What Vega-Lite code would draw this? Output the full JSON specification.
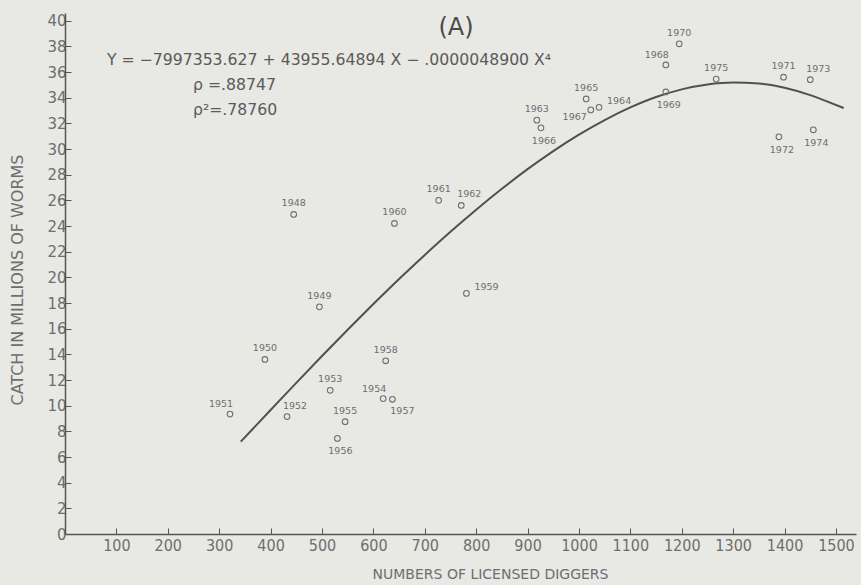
{
  "$schema": "https://vega.github.io/schema/vega-lite/v6.json",
  "width": 791,
  "height": 521,
  "autosize": {"type": "none"},
  "padding": {"left": 65, "top": 13, "right": 5, "bottom": 51},
  "background": "#e8e8e5",
  "config": {
    "view": {"stroke": null},
    "axis": {
      "grid": false,
      "domainColor": "#555555",
      "domainWidth": 1.5,
      "tickColor": "#555555",
      "tickWidth": 1,
      "tickSize": -6,
      "labelColor": "#6e6e6e",
      "titleColor": "#6e6e6e",
      "titleFontWeight": "normal",
      "labelFlush": false,
      "labelOverlap": false
    }
  },
  "datasets": {
    "pts": [
      {"year": "1948", "diggers": 445, "catch": 24.9, "pos": "above"},
      {"year": "1949", "diggers": 495, "catch": 17.7, "pos": "above"},
      {"year": "1950", "diggers": 389, "catch": 13.6, "pos": "above"},
      {"year": "1951", "diggers": 321, "catch": 9.35, "pos": "aboveleft"},
      {"year": "1952", "diggers": 432, "catch": 9.15, "pos": "aboveright"},
      {"year": "1953", "diggers": 516, "catch": 11.2, "pos": "above"},
      {"year": "1954", "diggers": 619, "catch": 10.55, "pos": "aboveleft"},
      {"year": "1955", "diggers": 545, "catch": 8.75, "pos": "above"},
      {"year": "1956", "diggers": 530, "catch": 7.45, "pos": "below"},
      {"year": "1957", "diggers": 637, "catch": 10.5, "pos": "belowright"},
      {"year": "1958", "diggers": 624, "catch": 13.5, "pos": "above"},
      {"year": "1959", "diggers": 781, "catch": 18.75, "pos": "right"},
      {"year": "1960", "diggers": 641, "catch": 24.2, "pos": "above"},
      {"year": "1961", "diggers": 727, "catch": 26.0, "pos": "above"},
      {"year": "1962", "diggers": 771, "catch": 25.6, "pos": "aboveright"},
      {"year": "1963", "diggers": 918, "catch": 32.25, "pos": "above"},
      {"year": "1964", "diggers": 1039, "catch": 33.25, "pos": "right"},
      {"year": "1965", "diggers": 1014, "catch": 33.9, "pos": "above"},
      {"year": "1966", "diggers": 926, "catch": 31.65, "pos": "below"},
      {"year": "1967", "diggers": 1023, "catch": 33.05, "pos": "left"},
      {"year": "1968", "diggers": 1169, "catch": 36.55, "pos": "aboveleft"},
      {"year": "1969", "diggers": 1169, "catch": 34.45, "pos": "below"},
      {"year": "1970", "diggers": 1195, "catch": 38.2, "pos": "above"},
      {"year": "1971", "diggers": 1398, "catch": 35.6, "pos": "above"},
      {"year": "1972", "diggers": 1389, "catch": 30.95, "pos": "below"},
      {"year": "1973", "diggers": 1450, "catch": 35.4, "pos": "aboveright"},
      {"year": "1974", "diggers": 1456, "catch": 31.5, "pos": "below"},
      {"year": "1975", "diggers": 1267, "catch": 35.45, "pos": "above"}
    ],
    "curve": [
      {"diggers": 342, "catch": 7.2},
      {"diggers": 400, "catch": 9.66},
      {"diggers": 450, "catch": 11.78},
      {"diggers": 500, "catch": 13.87},
      {"diggers": 550, "catch": 15.92},
      {"diggers": 600, "catch": 17.92},
      {"diggers": 650, "catch": 19.87},
      {"diggers": 700, "catch": 21.75},
      {"diggers": 750, "catch": 23.55},
      {"diggers": 800, "catch": 25.27},
      {"diggers": 850, "catch": 26.9},
      {"diggers": 900, "catch": 28.43},
      {"diggers": 950, "catch": 29.84},
      {"diggers": 1000, "catch": 31.12},
      {"diggers": 1050, "catch": 32.26},
      {"diggers": 1100, "catch": 33.24},
      {"diggers": 1150, "catch": 34.05},
      {"diggers": 1200, "catch": 34.65},
      {"diggers": 1250, "catch": 35.03},
      {"diggers": 1300, "catch": 35.18},
      {"diggers": 1350, "catch": 35.1},
      {"diggers": 1400, "catch": 34.78},
      {"diggers": 1450, "catch": 34.2},
      {"diggers": 1480, "catch": 33.75},
      {"diggers": 1515, "catch": 33.2}
    ],
    "notes": [
      {"label": "Y = −7997353.627 + 43955.64894 X − .0000048900 X⁴", "diggers": 81.5, "catch": 36.9, "kind": "eq"},
      {"label": "ρ =.88747", "diggers": 249, "catch": 35.0, "kind": "eq"},
      {"label": "ρ²=.78760", "diggers": 249, "catch": 33.05, "kind": "eq"},
      {"label": "(A)", "diggers": 760.7, "catch": 39.44, "kind": "head"}
    ]
  },
  "encoding": {
    "x": {
      "field": "diggers",
      "type": "quantitative",
      "scale": {"domain": [0, 1539], "nice": false, "zero": false},
      "axis": {
        "values": [100, 200, 300, 400, 500, 600, 700, 800, 900, 1000, 1100, 1200, 1300, 1400, 1500],
        "format": "d",
        "labelFont": "DejaVu Sans Condensed",
        "labelFontSize": 16,
        "labelPadding": 9,
        "title": "NUMBERS OF LICENSED DIGGERS",
        "titleFont": "DejaVu Sans",
        "titleFontSize": 14,
        "titleX": 425,
        "titleY": 40,
        "titleBaseline": "middle",
        "titleAlign": "center"
      }
    },
    "y": {
      "field": "catch",
      "type": "quantitative",
      "scale": {"domain": [0, 40.6], "nice": false, "zero": false},
      "axis": {
        "values": [0, 2, 4, 6, 8, 10, 12, 14, 16, 18, 20, 22, 24, 26, 28, 30, 32, 34, 36, 38, 40],
        "format": "d",
        "labelFont": "DejaVu Sans",
        "labelFontSize": 15,
        "labelPadding": 5,
        "title": "CATCH IN MILLIONS OF WORMS",
        "titleFont": "DejaVu Sans",
        "titleFontSize": 16,
        "titleX": -48,
        "titleY": 266.5,
        "titleAngle": -90,
        "titleAlign": "center",
        "titleBaseline": "middle"
      }
    }
  },
  "layer": [
    {
      "data": {"name": "curve"},
      "mark": {"type": "line", "color": "#505050", "strokeWidth": 2, "interpolate": "monotone"}
    },
    {
      "data": {"name": "pts"},
      "mark": {"type": "point", "shape": "circle", "filled": false, "size": 32, "stroke": "#707070", "strokeWidth": 1.1, "opacity": 1}
    },
    {
      "data": {"name": "pts"},
      "transform": [{"filter": "datum.pos == 'above'"}],
      "mark": {"type": "text", "font": "DejaVu Sans", "fontSize": 9.5, "color": "#6e6e6e", "dy": -11, "baseline": "middle", "align": "center"},
      "encoding": {"text": {"field": "year"}}
    },
    {
      "data": {"name": "pts"},
      "transform": [{"filter": "datum.pos == 'aboveleft'"}],
      "mark": {"type": "text", "font": "DejaVu Sans", "fontSize": 9.5, "color": "#6e6e6e", "dx": -9, "dy": -10, "baseline": "middle", "align": "center"},
      "encoding": {"text": {"field": "year"}}
    },
    {
      "data": {"name": "pts"},
      "transform": [{"filter": "datum.pos == 'aboveright'"}],
      "mark": {"type": "text", "font": "DejaVu Sans", "fontSize": 9.5, "color": "#6e6e6e", "dx": 8, "dy": -11, "baseline": "middle", "align": "center"},
      "encoding": {"text": {"field": "year"}}
    },
    {
      "data": {"name": "pts"},
      "transform": [{"filter": "datum.pos == 'below'"}],
      "mark": {"type": "text", "font": "DejaVu Sans", "fontSize": 9.5, "color": "#6e6e6e", "dx": 3, "dy": 13, "baseline": "middle", "align": "center"},
      "encoding": {"text": {"field": "year"}}
    },
    {
      "data": {"name": "pts"},
      "transform": [{"filter": "datum.pos == 'belowright'"}],
      "mark": {"type": "text", "font": "DejaVu Sans", "fontSize": 9.5, "color": "#6e6e6e", "dx": 10, "dy": 12, "baseline": "middle", "align": "center"},
      "encoding": {"text": {"field": "year"}}
    },
    {
      "data": {"name": "pts"},
      "transform": [{"filter": "datum.pos == 'right'"}],
      "mark": {"type": "text", "font": "DejaVu Sans", "fontSize": 9.5, "color": "#6e6e6e", "dx": 8, "dy": -6, "baseline": "middle", "align": "left"},
      "encoding": {"text": {"field": "year"}}
    },
    {
      "data": {"name": "pts"},
      "transform": [{"filter": "datum.pos == 'left'"}],
      "mark": {"type": "text", "font": "DejaVu Sans", "fontSize": 9.5, "color": "#6e6e6e", "dx": -4, "dy": 7, "baseline": "middle", "align": "right"},
      "encoding": {"text": {"field": "year"}}
    },
    {
      "data": {"name": "notes"},
      "transform": [{"filter": "datum.kind == 'eq'"}],
      "mark": {"type": "text", "font": "DejaVu Sans", "fontSize": 15.7, "color": "#5a5a5a", "baseline": "middle", "align": "left"},
      "encoding": {"text": {"field": "label"}}
    },
    {
      "data": {"name": "notes"},
      "transform": [{"filter": "datum.kind == 'head'"}],
      "mark": {"type": "text", "font": "DejaVu Sans", "fontSize": 24, "color": "#4a4a4a", "baseline": "middle", "align": "center"},
      "encoding": {"text": {"field": "label"}}
    }
  ]
}
